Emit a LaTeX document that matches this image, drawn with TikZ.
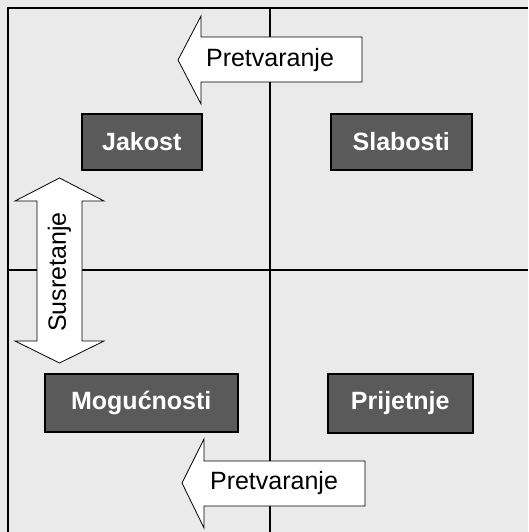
\documentclass[tikz,border=0pt]{standalone}
\usepackage{fontspec}
\setmainfont{Liberation Sans}
\definecolor{bg}{HTML}{EAEAEA}
\definecolor{boxfill}{HTML}{5A5A5A}
\tikzset{
  quadbox/.style={draw=black, line width=1.5pt, fill=boxfill, text=white, font=\fontsize{25}{29}\selectfont\bfseries, anchor=north west, inner sep=0pt},
  arrowshape/.style={draw=black, line width=0.8pt, fill=white},
  arrowtext/.style={font=\fontsize{25}{29}\selectfont, text=black, inner sep=0pt},
  gridline/.style={draw=black, line width=1.6pt}
}
\begin{document}
\begin{tikzpicture}[x=1pt,y=-1pt]
\useasboundingbox (0,0) rectangle (528,532);
\fill[bg] (0,0) rectangle (528,532);
% frame and grid
\draw[gridline] (8,532) -- (8,8) -- (528,8);
\draw[gridline] (270,8) -- (270,532);
\draw[gridline] (8,270) -- (528,270);
% top arrow
\draw[arrowshape] (178,60) -- (201,16) -- (201,37) -- (362,37) -- (362,82) -- (201,82) -- (201,104) -- cycle;
\node[arrowtext] (pt) at (270,60) {Pretvaranje};
% bottom arrow
\draw[arrowshape] (182,483) -- (204,439) -- (204,461) -- (365,461) -- (365,506) -- (204,506) -- (204,528) -- cycle;
\node[arrowtext] (pb) at (274,483) {Pretvaranje};
% double arrow
\draw[arrowshape] (59.5,178) -- (104,201) -- (82,201) -- (82,341) -- (104,341) -- (59.5,363) -- (15,341) -- (37,341) -- (37,201) -- (15,201) -- cycle;
\node[arrowtext, rotate=90] (su) at (59.5,272) {Susretanje};
% boxes
\node[quadbox, minimum width=120pt, minimum height=56pt] (jak) at (81,113) {Jakost};
\node[quadbox, minimum width=141pt, minimum height=56pt] (sla) at (330,113) {Slabosti};
\node[quadbox, minimum width=193pt, minimum height=58pt] (mog) at (44,373) {Mogućnosti};
\node[quadbox, minimum width=145pt, minimum height=59pt] (pri) at (327,373) {Prijetnje};
\end{tikzpicture}
\end{document}
